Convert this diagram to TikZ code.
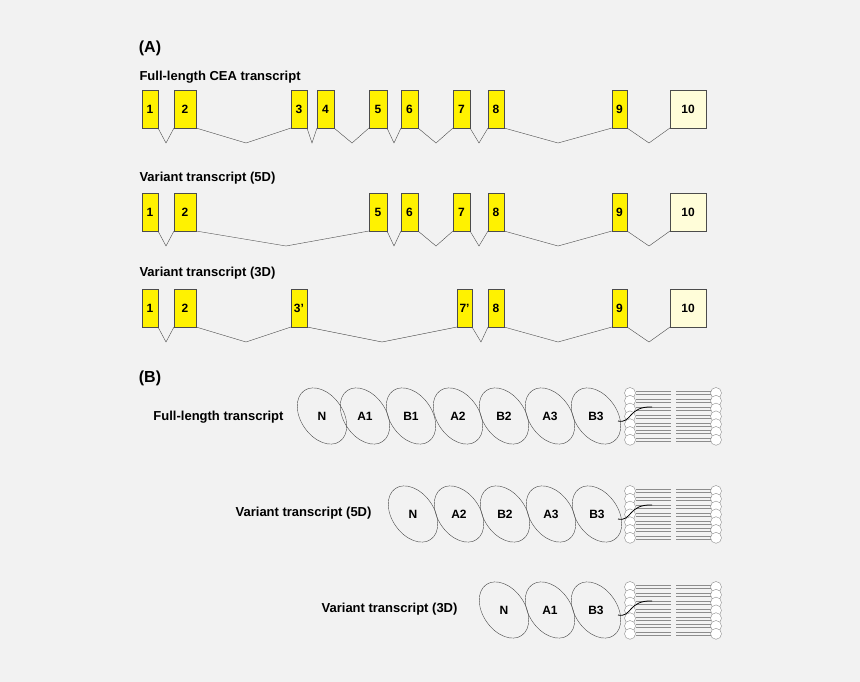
\documentclass[tikz,border=0pt]{standalone}
\usepackage{fontspec}
\setmainfont{Liberation Sans}
\begin{document}
\begin{tikzpicture}[x=1pt,y=-1pt,
  exon/.style={draw=black!70,fill=yellow},
  lastexon/.style={draw=black!70,fill=yellow!15},
  lbl/.style={font=\bfseries\fontsize{12}{14}\selectfont},
  dom/.style={draw=black!70},
  ttl/.style={anchor=west,font=\bfseries\fontsize{13}{15}\selectfont}]
\fill[black!5] (0,0) rectangle (860,682);
\useasboundingbox (0,0) rectangle (860,682);
% panel A
\node[font=\bfseries\fontsize{16}{18}\selectfont] (A) at (150,48) {(A)};
\node[ttl] (t1) at (136,77) {Full-length CEA transcript};
\node[ttl] (t2) at (136,178) {Variant transcript (5D)};
\node[ttl] (t3) at (136,273) {Variant transcript (3D)};
\newcommand\exonrow[3]{% top y, list x1/x2/label, introns
  \foreach \a/\b/\l in {#2} {
    \draw[exon] (\a,#1) rectangle (\b,#1+38);
    \node[lbl] at ({(\a+\b)/2},#1+19) {\l};}
  \draw[lastexon] (670,#1) rectangle (706,#1+38);
  \node[lbl] at (688,#1+19) {10};
  \foreach \p/\v/\q in {#3}
    \draw[black!70] (\p,#1+38) -- (\v,#1+53) -- (\q,#1+38);}
\exonrow{90}{142/158/1,174/196/2,291/307/3,317/334/4,369/387/5,401/418/6,453/470/7,488/504/8,612/627/9}
  {158/166/174,196/246/291,307/312/317,334/352/369,387/394/401,418/436/453,470/479/488,504/558/612,627/649/670}
\exonrow{193}{142/158/1,174/196/2,369/387/5,401/418/6,453/470/7,488/504/8,612/627/9}
  {158/166/174,196/286/369,387/394/401,418/436/453,470/479/488,504/558/612,627/649/670}
\exonrow{289}{142/158/1,174/196/2,291/307/3’,457/472/7’,488/504/8,612/627/9}
  {158/166/174,196/246/291,307/382/457,472/481/488,504/558/612,627/649/670}
% panel B
\node[font=\bfseries\fontsize{16}{18}\selectfont] (B) at (150,378) {(B)};
\newcommand\membrane[1]{%
  \foreach \k in {0,...,6} {
    \draw[black!45,line width=0.3pt] (635.5,#1+\k*7.8-1.5) -- (671,#1+\k*7.8-1.5)
      (635.5,#1+\k*7.8+1.5) -- (671,#1+\k*7.8+1.5)
      (676,#1+\k*7.8-1.5) -- (710.5,#1+\k*7.8-1.5)
      (676,#1+\k*7.8+1.5) -- (710.5,#1+\k*7.8+1.5);
    \draw[black!45,fill=white] (630,#1+\k*7.8) circle (5.5);
    \draw[black!45,fill=white] (716,#1+\k*7.8) circle (5.5);}}
\newcommand\domrow[2]{%
  \foreach \x/\l in {#2} {
    \draw[dom,rotate around={-55:(\x,#1)}] (\x,#1) ellipse (31 and 21);
    \node[lbl] at (\x,#1) {\l};}
  \draw[black,thick] (618,#1+5) .. controls (632,#1+8) and (628,#1-10) .. (652,#1-9);}
\membrane{393}
\domrow{416}{322/N,365/A1,411/B1,458/A2,504/B2,550/A3,596/B3}
\node[ttl,anchor=east] (b1) at (287,417) {Full-length transcript};
\membrane{491}
\domrow{514}{413/N,459/A2,505/B2,551/A3,597/B3}
\node[ttl,anchor=east] (b2) at (375,513) {Variant transcript (5D)};
\membrane{587}
\domrow{610}{504/N,550/A1,596/B3}
\node[ttl,anchor=east] (b3) at (461,609) {Variant transcript (3D)};
\end{tikzpicture}
\end{document}
